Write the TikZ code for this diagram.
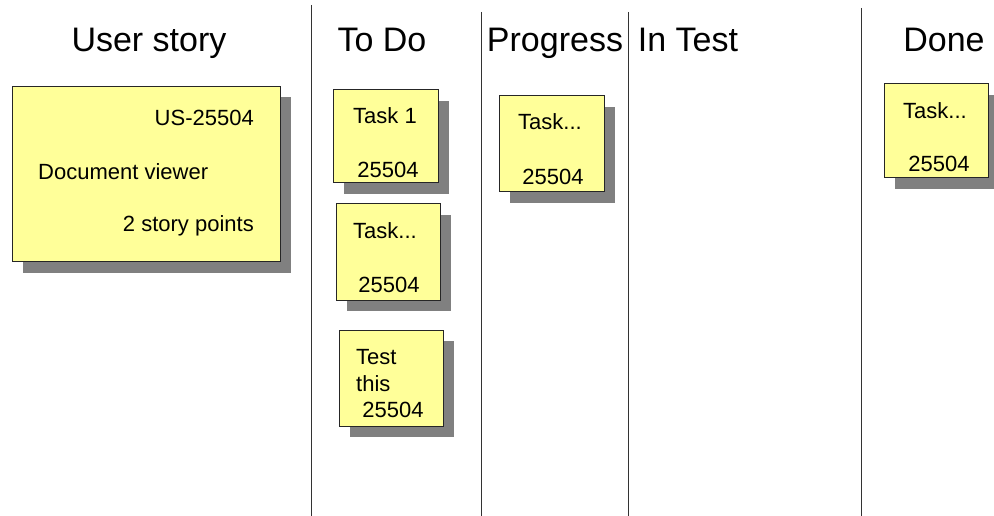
\documentclass[tikz,border=0pt]{standalone}
\usepackage{fontspec}
\setmainfont{Liberation Sans}
\usetikzlibrary{shadows}
\definecolor{notey}{HTML}{FFFF99}
\definecolor{shadowg}{HTML}{808080}
\tikzset{
  note/.style={draw=black!85, line width=1pt, fill=notey,
    general shadow={fill=shadowg, shadow xshift=11pt, shadow yshift=-11pt}},
  head/.style={font=\fontsize{34}{40}\selectfont, anchor=base},
  txt/.style={font=\fontsize{22}{26}\selectfont, inner sep=0pt},
  lane/.style={line width=1pt, black!80}
}
\begin{document}
\begin{tikzpicture}[x=1pt,y=-1pt]
\useasboundingbox (0,0) rectangle (994,516);

% column headings
\node (hus) at (149,52) [head] {User story};
\node (htd) at (382,52) [head] {To Do};
\node (hpr) at (555,52) [head] {Progress};
\node (hit) at (688,52) [head] {In Test};
\node (hdn) at (944,52) [head] {Done};

% lane separators
\coordinate (l1a) at (311,5);   \coordinate (l1b) at (311,516);
\coordinate (l2a) at (481,12);  \coordinate (l2b) at (481,516);
\coordinate (l3a) at (628,12);  \coordinate (l3b) at (628,516);
\coordinate (l4a) at (861,8);   \coordinate (l4b) at (861,516);
\draw[lane] (l1a) -- (l1b);
\draw[lane] (l2a) -- (l2b);
\draw[lane] (l3a) -- (l3b);
\draw[lane] (l4a) -- (l4b);

% user story
\node (us) at (146,174) [note, minimum width=268pt, minimum height=175pt] {};
\node (usid) at (254,118) [txt, anchor=east] {US-25504};
\node (usname) at (38,172) [txt, anchor=west] {Document viewer};
\node (uspts) at (254,226) [txt, anchor=east] {2 story points};

% to do
\node (t1) at (385.5,136.5) [note, minimum width=105pt, minimum height=93pt] {};
\node (t1a) at (385,116) [txt] {Task 1};
\node (t1b) at (388,170) [txt] {25504};

\node (t2) at (388,252) [note, minimum width=104pt, minimum height=96pt] {};
\node (t2a) at (385,231) [txt] {Task...};
\node (t2b) at (389,285) [txt] {25504};

\node (t3) at (391,378) [note, minimum width=104pt, minimum height=96pt] {};
\node (t3a) at (356,357) [txt, anchor=west] {Test};
\node (t3b) at (356,384) [txt, anchor=west] {this};
\node (t3c) at (393,410) [txt] {25504};

% in progress
\node (p1) at (551.5,144) [note, minimum width=105pt, minimum height=96pt] {};
\node (p1a) at (550,122) [txt] {Task...};
\node (p1b) at (553,177) [txt] {25504};

% done
\node (d1) at (936,131) [note, minimum width=104pt, minimum height=94pt] {};
\node (d1a) at (935,111) [txt] {Task...};
\node (d1b) at (939,164) [txt] {25504};
\end{tikzpicture}
\end{document}
